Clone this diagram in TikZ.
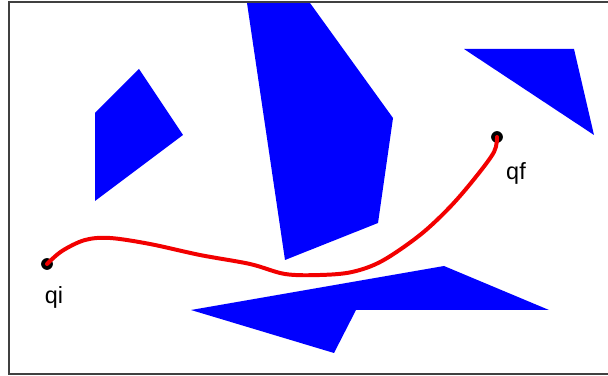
\documentclass[tikz,border=0pt]{standalone}
\usepackage{fontspec}
\setsansfont{Liberation Sans}
\tikzset{
  obstacle/.style={fill=blue, draw=none},
  robotpath/.style={red!95!black, line width=3.4pt, line cap=round, line join=round},
  endpoint/.style={circle, fill=black, inner sep=0pt, minimum size=10pt},
  tag/.style={font=\sffamily\fontsize{20}{24}\selectfont, inner sep=0pt}
}

\begin{document}
\begin{tikzpicture}[x=0.03cm, y=-0.03cm]
    \useasboundingbox (0,0) rectangle (608,376);

    % Obstaculos
    \fill[obstacle] (95,113) -- (139,69) -- (183,135) -- (95,201) -- cycle;
    \fill[obstacle] (247,3) -- (310,3) -- (393,118) -- (378,223) -- (285,260) -- cycle;
    \fill[obstacle] (464,49) -- (574,49) -- (594,135) -- cycle;
    \fill[obstacle] (191,310) -- (444,266) -- (549,310) -- (356,310) -- (334,353) -- cycle;

    % Marco
    \draw[line width=2pt, black!75] (608,2) -- (9,2) -- (9,374) -- (608,374);

    % Puntos inicial y final
    \node[endpoint] (qi) at (47,264) {};
    \node[endpoint] (qf) at (497,137) {};
    \node[tag] (qilabel) at (54,297) {qi};
    \node[tag] (qflabel) at (516,173) {qf};

    % Trayectoria
    \draw[robotpath]
        plot[smooth, tension=0.55] coordinates {(qi.center) (62,251) (85,240) (110,238) (150,244)
        (200,255) (250,264) (285,274) (320,275) (352,272) (382,261) (420,235) (450,207)
        (475,178) (494,152) (qf.center)};

\end{tikzpicture}
\end{document}
